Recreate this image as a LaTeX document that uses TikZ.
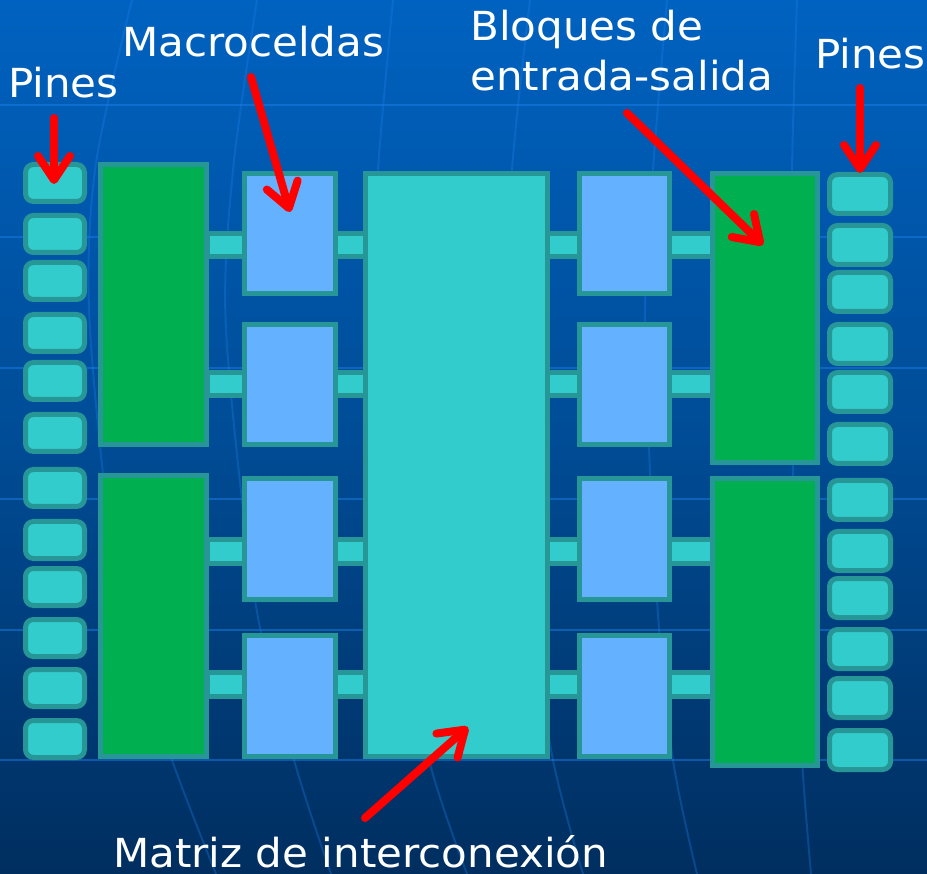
\documentclass[tikz,border=0pt]{standalone}
\usepackage{fontspec}
\setmainfont{DejaVu Sans}
\usetikzlibrary{arrows.meta}
\definecolor{bgtop}{RGB}{0,98,192}
\definecolor{bgmid}{RGB}{0,76,150}
\definecolor{bgbot}{RGB}{0,46,95}
\definecolor{gridc}{RGB}{30,130,240}
\definecolor{bordc}{RGB}{38,150,150}
\definecolor{pinc}{RGB}{51,204,204}
\definecolor{grnc}{RGB}{0,176,80}
\definecolor{cellc}{RGB}{99,177,255}
\tikzset{
  box/.style={draw=bordc, line width=5pt, inner sep=0pt, outer sep=0pt},
  pinbox/.style={box, fill=pinc, rounded corners=8pt},
  iobox/.style={box, fill=grnc},
  mcbox/.style={box, fill=cellc},
  matbox/.style={box, fill=pinc},
  busbox/.style={box, fill=pinc},
  lbl/.style={text=white, font=\fontsize{40}{48}\selectfont, inner sep=0pt, anchor=base west, xscale=1.05},
  callout/.style={draw=red, line width=8pt, line cap=round, -{Straight Barb[length=24pt,width=32pt,round]}},
  gridln/.style={draw=gridc, opacity=.45, line width=2pt},
  gridcv/.style={draw=gridc, opacity=.3, line width=2pt}
}
\newcommand\blk[6]{\node[#6, minimum width={#4-#2-5}, minimum height={#5-#3-5}] (#1) at ({(#2+#4)/2},{(#3+#5)/2}) {};}
\begin{document}
\begin{tikzpicture}[x=1pt,y=-1pt]
\useasboundingbox (0,0) rectangle (927,874);
% background
\shade[top color=bgtop, bottom color=bgbot, middle color=bgmid] (0,0) rectangle (927,874);
% grid
\foreach \yy in {105,237,368,499,630,760} \draw[gridln] (0,\yy) -- (927,\yy);
\draw[gridcv] plot[smooth] coordinates {(132,0) (95,170) (90,330) (120,600) (172,760) (216,874)};
\draw[gridcv] plot[smooth] coordinates {(257,0) (233,170) (226,330) (255,600) (294,760) (331,874)};
\draw[gridcv] plot[smooth] coordinates {(393,0) (378,170) (372,330) (400,600) (429,760) (467,874)};
\draw[gridcv] plot[smooth] coordinates {(530,0) (512,170) (508,330) (530,600) (553,760) (583,874)};
\draw[gridcv] plot[smooth] coordinates {(667,0) (653,170) (645,330) (657,600) (673,760) (697,874)};
\draw[gridcv] plot[smooth] coordinates {(797,0) (792,170) (792,330) (795,600) (802,760) (811,874)};
% buses
\blk{bus1}{205}{231}{715}{259}{busbox}
\blk{bus2}{205}{370}{715}{398}{busbox}
\blk{bus3}{205}{537}{715}{566}{busbox}
\blk{bus4}{205}{670}{715}{699}{busbox}
% left pins
\foreach \t [count=\i] in {162,213,260,312,360,412,467,519,566,617,667,718}
  {\blk{lp\i}{23}{\t}{87}{\t+42}{pinbox}}
% right pins
\foreach \t [count=\i] in {172,223,270,322,370,422,478,529,576,627,676,728}
  {\blk{rp\i}{827}{\t}{893}{\t+44}{pinbox}}
% I/O blocks
\blk{ioL1}{98}{162}{209}{447}{iobox}
\blk{ioL2}{98}{473}{209}{759}{iobox}
\blk{ioR1}{710}{171}{820}{465}{iobox}
\blk{ioR2}{710}{476}{820}{768}{iobox}
% macrocells
\blk{mL1}{242}{171}{338}{296}{mcbox}
\blk{mL2}{242}{322}{338}{447}{mcbox}
\blk{mL3}{242}{476}{338}{602}{mcbox}
\blk{mL4}{242}{633}{338}{759}{mcbox}
\blk{mR1}{577}{171}{672}{296}{mcbox}
\blk{mR2}{577}{322}{672}{447}{mcbox}
\blk{mR3}{577}{476}{672}{602}{mcbox}
\blk{mR4}{577}{633}{672}{759}{mcbox}
% interconnect matrix
\blk{mat}{363}{171}{550}{759}{matbox}
% labels
\node[lbl] (tPinesL) at (8,98) {Pines};
\node[lbl] (tMacro) at (122,57) {Macroceldas};
\node[lbl] (tBloq1) at (470,41) {Bloques de};
\node[lbl] (tBloq2) at (470,91) {entrada-salida};
\node[lbl] (tPinesR) at (815,69) {Pines};
\node[lbl] (tMat) at (113,867) {Matriz de interconexión};
% arrows
\coordinate (a1s) at (54,118);  \coordinate (a1e) at (54,184);
\coordinate (a2s) at (251,77);  \coordinate (a2e) at (290,212);
\coordinate (a3s) at (627,113); \coordinate (a3e) at (763,245);
\coordinate (a4s) at (860,88);  \coordinate (a4e) at (860,173);
\coordinate (a5s) at (365,818); \coordinate (a5e) at (468,727);
\draw[callout] (a1s) -- (a1e);
\draw[callout] (a2s) -- (a2e);
\draw[callout] (a3s) -- (a3e);
\draw[callout] (a4s) -- (a4e);
\draw[callout] (a5s) -- (a5e);
\end{tikzpicture}
\end{document}
